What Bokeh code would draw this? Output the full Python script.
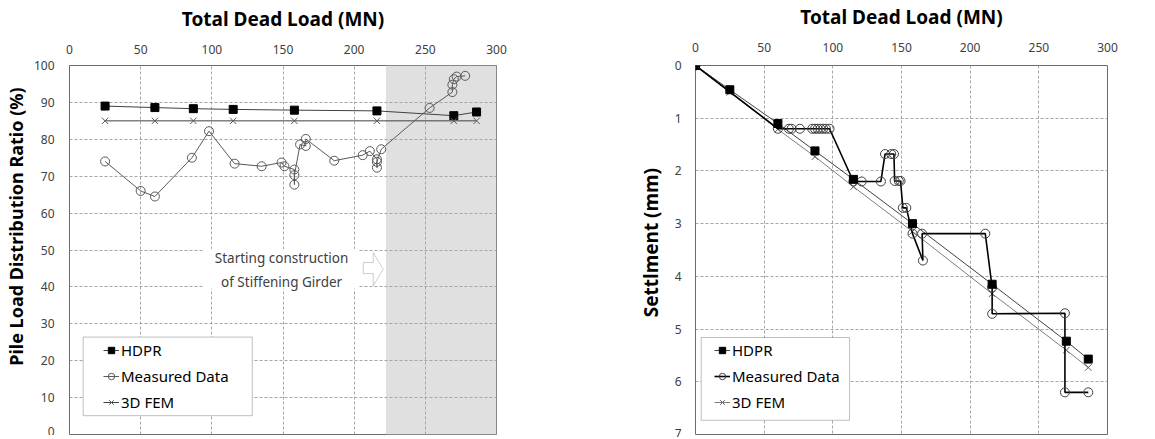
from bokeh.plotting import figure
from bokeh.layouts import row
from bokeh.models import (Range1d, Legend, LegendItem, BoxAnnotation, PolyAnnotation,
                          Label, FixedTicker)
from bokeh.embed import file_html
from bokeh.resources import INLINE

# ---------------- data: left chart (Pile Load Distribution Ratio) ----------------
hdpr_load_l = [25, 60, 87, 115, 158, 216, 270, 286]
hdpr_ratio_l = [89.0, 88.6, 88.3, 88.1, 87.9, 87.7, 86.4, 87.4]

fem_load_l = [25, 60, 87, 115, 158, 216, 270, 286]
fem_ratio_l = [85.0, 85.0, 85.0, 85.0, 85.0, 85.0, 85.0, 85.0]

meas_load_l = [25, 50, 60, 86, 98, 116, 135, 149, 151, 158, 158, 158, 162, 166, 166,
               186, 206, 211, 216, 216, 216, 219, 253, 269, 269, 270, 272, 278]
meas_ratio_l = [74.0, 66.0, 64.5, 75.0, 82.2, 73.4, 72.7, 73.7, 72.7, 71.8, 67.7, 70.3,
                78.6, 78.2, 80.1, 74.2, 75.7, 76.8, 74.6, 72.3, 73.9, 77.3, 88.5, 92.8,
                94.8, 96.3, 97.0, 97.2]

# ---------------- data: right chart (Settlement) ----------------
hdpr_load_r = [0, 25, 60, 87, 115, 158, 216, 270, 286]
hdpr_settle_r = [0.0, 0.46, 1.10, 1.62, 2.16, 3.00, 4.15, 5.23, 5.57]

fem_load_r = [0, 25, 60, 87, 115, 158, 216, 270, 286]
fem_settle_r = [0.0, 0.51, 1.21, 1.73, 2.30, 3.15, 4.33, 5.40, 5.73]

meas_load_r = [0, 60, 68, 70, 76, 85, 87, 89, 91, 93, 95, 97.6, 115, 121, 135,
               138, 142.5, 144.5, 145, 148, 149.3, 151, 153.5, 158, 165.6, 165,
               211, 216, 216, 269, 269, 286]
meas_settle_r = [0.0, 1.2, 1.2, 1.2, 1.2, 1.2, 1.2, 1.2, 1.2, 1.2, 1.2, 1.2, 2.2, 2.2, 2.2,
                 1.68, 1.68, 1.68, 2.19, 2.19, 2.19, 2.7, 2.7, 3.19, 3.7, 3.19,
                 3.19, 4.21, 4.71, 4.7, 6.2, 6.2]

x_ticks = [0, 50, 100, 150, 200, 250, 300]
y_ticks_l = [0, 10, 20, 30, 40, 50, 60, 70, 80, 90, 100]
y_ticks_r = [0, 1, 2, 3, 4, 5, 6, 7]

FONT = "Noto Sans"
NB = "\u00a0"


def style(p, xstand, xlab_stand, ystand, ylab_stand, ylab_size):
    p.outline_line_color = "#6b6b6b"
    p.outline_line_width = 1
    for g in (p.xgrid, p.ygrid):
        g.grid_line_color = "#a6a6a6"
        g.grid_line_dash = "3 2"
        g.grid_line_width = 1
    for ax in (p.xaxis, p.yaxis):
        ax.axis_line_color = None
        ax.major_tick_line_color = None
        ax.minor_tick_line_color = None
        ax.major_tick_out = 0
        ax.major_tick_in = 0
        ax.major_label_text_font = FONT
        ax.major_label_text_font_size = "12px"
        ax.major_label_text_color = "#404040"
        ax.axis_label_text_font = FONT
        ax.axis_label_text_font_style = "bold"
        ax.axis_label_text_color = "#000000"
    p.xaxis.axis_label_text_font_size = "19px"
    p.yaxis.axis_label_text_font_size = ylab_size
    p.xaxis.major_label_standoff = xstand
    p.xaxis.axis_label_standoff = xlab_stand
    p.yaxis.major_label_standoff = ystand
    p.yaxis.axis_label_standoff = ylab_stand
    p.xaxis.ticker = FixedTicker(ticks=x_ticks)


# ================= LEFT =================
p1 = figure(frame_width=427, frame_height=369, x_axis_location="above",
            x_range=Range1d(0, 300), y_range=Range1d(0, 100),
            min_border_left=60, min_border_right=20, min_border_top=57, min_border_bottom=3,
            output_backend="svg", toolbar_location=None)
p1.xaxis.axis_label = "Total Dead Load (MN)"
p1.yaxis.axis_label = NB * 10 + "Pile Load Distribution Ratio (%)"
style(p1, 12, 10, 15, 3, "18px")
p1.yaxis.ticker = FixedTicker(ticks=y_ticks_l)

shade = BoxAnnotation(left=222.3, right=300, fill_color="#e0e0e0", fill_alpha=1,
                      line_color=None, level="underlay")
p1.center = [shade] + list(p1.center)

txt_bg = BoxAnnotation(left=94, right=203, bottom=39.5, top=50.3, fill_color="white",
                       fill_alpha=1, line_color=None)
p1.add_layout(txt_bg)

l_h = p1.line(hdpr_load_l, hdpr_ratio_l, line_color="#404040", line_width=1)
s_h = p1.scatter(hdpr_load_l, hdpr_ratio_l, marker="square", size=8, fill_color="black",
                 line_color="black")
l_f = p1.line(fem_load_l, fem_ratio_l, line_color="#404040", line_width=1)
s_f = p1.scatter(fem_load_l, fem_ratio_l, marker="x", size=9, line_color="#595959",
                 line_width=1)
l_m = p1.line(meas_load_l, meas_ratio_l, line_color="#595959", line_width=1)
s_m = p1.scatter(meas_load_l, meas_ratio_l, marker="circle", size=9, fill_color=None,
                 line_color="#595959", line_width=1)

p1.add_layout(Label(x=149, y=47.9, text="Starting construction", text_align="center",
                    text_baseline="middle", text_font=FONT, text_font_size="13.5px",
                    text_color="#404040"))
p1.add_layout(Label(x=149, y=41.4, text="of Stiffening Girder", text_align="center",
                    text_baseline="middle", text_font=FONT, text_font_size="13.5px",
                    text_color="#404040"))
arrow = PolyAnnotation(xs=[206.4, 213.4, 213.4, 220.4, 213.4, 213.4, 206.4],
                       ys=[46.6, 46.6, 49.3, 44.8, 40.3, 43.6, 43.6],
                       fill_color="white", fill_alpha=1, line_color="#595959", line_width=1)
p1.add_layout(arrow)

leg_box1 = BoxAnnotation(left=9.6, right=128.4, bottom=5.1, top=26.4, fill_color="white",
                         fill_alpha=1, line_color="#303030", line_width=1)
p1.add_layout(leg_box1)

leg1 = Legend(items=[LegendItem(label="HDPR", renderers=[l_h, s_h]),
                     LegendItem(label="Measured Data", renderers=[l_m, s_m]),
                     LegendItem(label="3D FEM", renderers=[l_f, s_f])],
              location=(34, 22), padding=0, spacing=6, glyph_width=16, glyph_height=20,
              label_height=20, label_standoff=2, label_text_font=FONT,
              label_text_font_size="15px", label_text_color="#000000",
              border_line_color=None, background_fill_alpha=0)
p1.add_layout(leg1)

# ================= RIGHT =================
p2 = figure(frame_width=412, frame_height=369, x_axis_location="above",
            x_range=Range1d(0, 300), y_range=Range1d(7, 0),
            min_border_left=179, min_border_right=28, min_border_top=57, min_border_bottom=3,
            output_backend="svg", toolbar_location=None)
p2.xaxis.axis_label = "Total Dead Load (MN)"
p2.yaxis.axis_label = NB * 3 + "Settlment (mm)"
style(p2, 14, 10, 14, 8, "19px")
p2.yaxis.ticker = FixedTicker(ticks=y_ticks_r)

r_lf = p2.line(fem_load_r, fem_settle_r, line_color="#7f7f7f", line_width=1)
r_sf = p2.scatter(fem_load_r, fem_settle_r, marker="x", size=9, line_color="#595959",
                  line_width=1)
r_lh = p2.line(hdpr_load_r, hdpr_settle_r, line_color="#404040", line_width=1)
r_lm = p2.line(meas_load_r, meas_settle_r, line_color="black", line_width=1.6)
r_sm = p2.scatter(meas_load_r, meas_settle_r, marker="circle", size=9, fill_color=None,
                  line_color="#404040", line_width=1)
r_sh = p2.scatter(hdpr_load_r, hdpr_settle_r, marker="square", size=8, fill_color="black",
                  line_color="black")

leg_box2 = BoxAnnotation(left=4.15, right=112.2, bottom=6.73, top=5.16, fill_color="white",
                         fill_alpha=1, line_color="#303030", line_width=1)
p2.add_layout(leg_box2)

leg2 = Legend(items=[LegendItem(label="HDPR", renderers=[r_lh, r_sh]),
                     LegendItem(label="Measured Data", renderers=[r_lm, r_sm]),
                     LegendItem(label="3D FEM", renderers=[r_lf, r_sf])],
              location=(19, 22), padding=0, spacing=6, glyph_width=16, glyph_height=20,
              label_height=20, label_standoff=2, label_text_font=FONT,
              label_text_font_size="15px", label_text_color="#000000",
              border_line_color=None, background_fill_alpha=0)
p2.add_layout(leg2)

layout = row(p1, p2)
open("out.html", "w").write(file_html(layout, INLINE))
